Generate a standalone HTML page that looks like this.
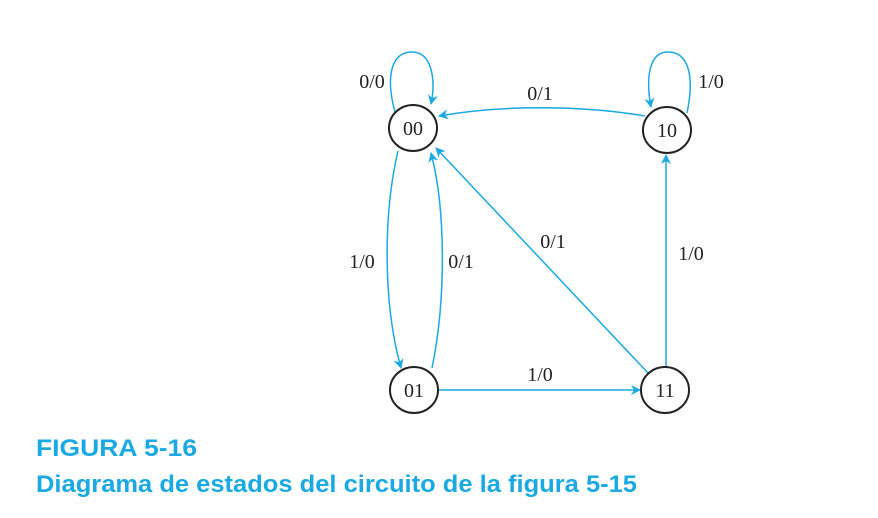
<!DOCTYPE html>
<html><head><style>
body{margin:0;background:#fff;width:878px;height:513px;overflow:hidden}
</style></head><body>
<svg width="878" height="513" viewBox="0 0 878 513" xmlns="http://www.w3.org/2000/svg">
<defs><marker id="a" viewBox="0 0 10 10" refX="9" refY="5" markerWidth="10" markerHeight="10" orient="auto" markerUnits="userSpaceOnUse"><path d="M0,0 L10,5 L0,10 L3,5 z" fill="#1aa9e3"/></marker></defs>
<g fill="none" stroke="#1aa9e3" stroke-width="1.5" marker-end="url(#a)">
<path d="M395,112 C385,75 392,52 412,52 C432,52 436,80 431,104"/>
<path d="M645,116 C580,105 500,105 439,116"/>
<path d="M687,113 C695,75 688,52 668,52 C648,52 646,80 651,107"/>
<path d="M398,151 C384,210 382,300 401,368"/>
<path d="M432,368 C446,300 446,210 431,153"/>
<path d="M648,373 L436,148"/>
<path d="M666,367 L666,155"/>
<path d="M438,390 L640,390"/>
</g>
<g fill="#fff" stroke="#222" stroke-width="2">
<ellipse cx="413" cy="128" rx="24" ry="23"/>
<ellipse cx="667" cy="130" rx="24" ry="23"/>
<ellipse cx="414" cy="390" rx="24" ry="23"/>
<ellipse cx="665" cy="390" rx="24" ry="23"/>
</g>
<g font-family="Liberation Serif,serif" font-size="20" fill="#222" text-anchor="middle">
<text x="413" y="135">00</text><text x="667" y="137">10</text>
<text x="414" y="397">01</text><text x="665" y="397">11</text>
<text x="372" y="88">0/0</text><text x="540" y="100">0/1</text>
<text x="711" y="88">1/0</text><text x="362" y="268">1/0</text>
<text x="461" y="268">0/1</text><text x="553" y="248">0/1</text>
<text x="691" y="260">1/0</text><text x="540" y="381">1/0</text>
</g>
<g font-family="Liberation Sans,sans-serif" fill="#1aa9e3" font-weight="bold">
<text x="36" y="456" font-size="24" textLength="161" lengthAdjust="spacingAndGlyphs">FIGURA 5-16</text>
<text x="36" y="492" font-size="24" textLength="601" lengthAdjust="spacingAndGlyphs">Diagrama de estados del circuito de la figura 5-15</text>
</g>
</svg>
</body></html>
